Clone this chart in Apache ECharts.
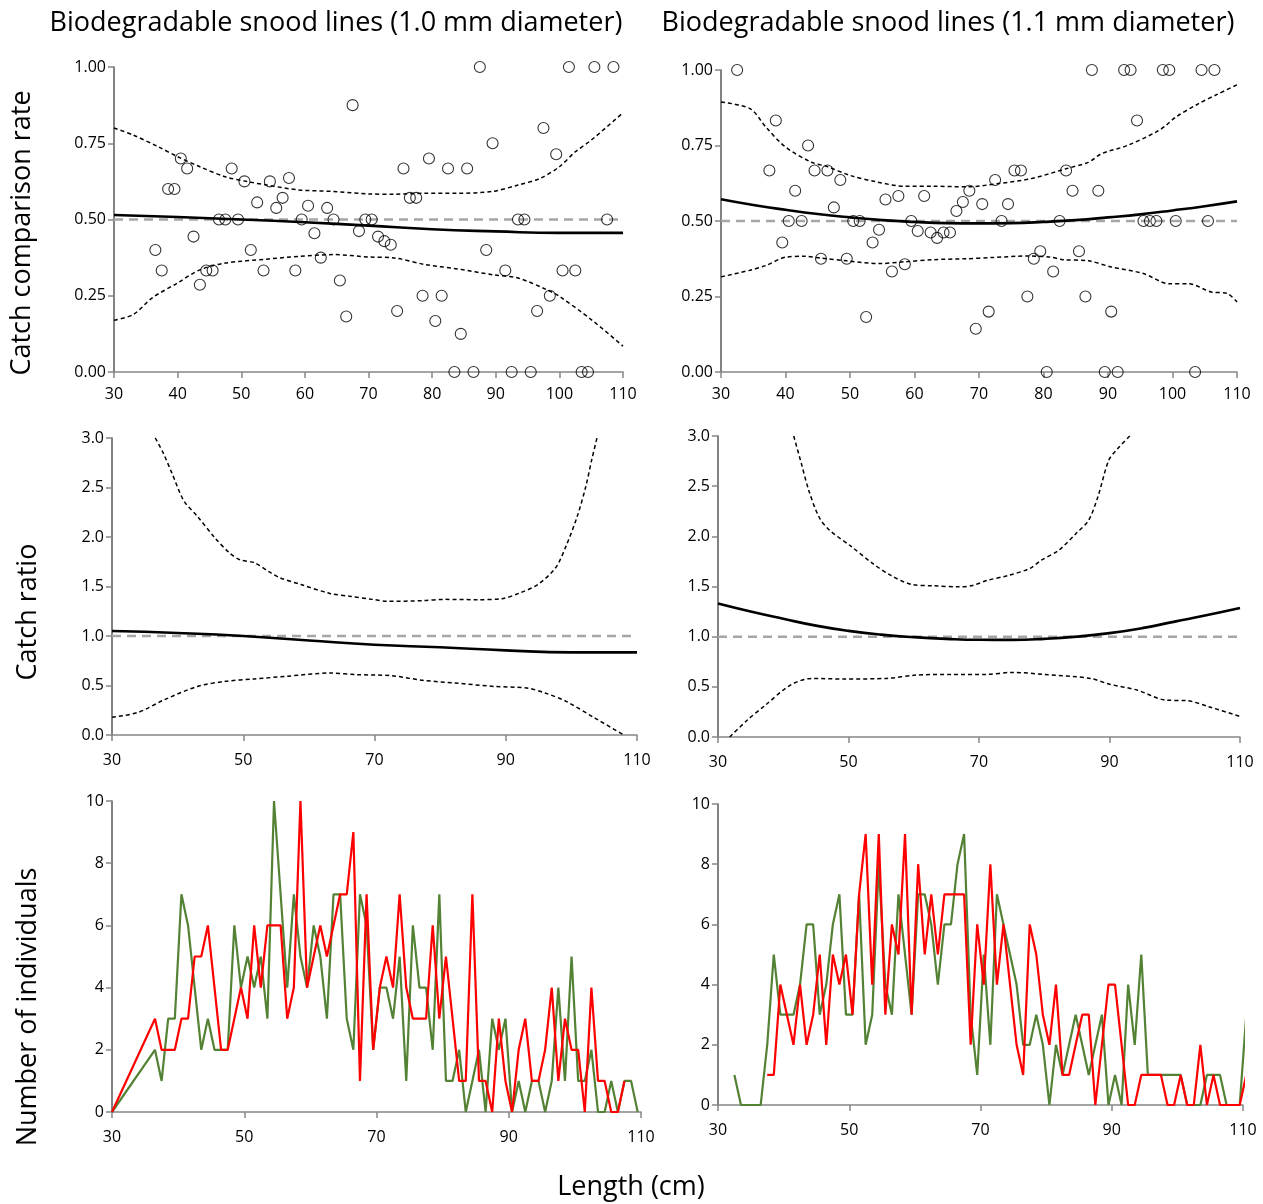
<!DOCTYPE html>
<html><head><meta charset="utf-8">
<script src="https://cdn.jsdelivr.net/npm/echarts@6/dist/echarts.min.js"></script>
<style>html,body{margin:0;padding:0;background:#fff}#c{width:1263px;height:1204px}</style>
</head><body><div id="c"></div><script>
// ---------- Top-left: catch comparison rate (1.0 mm) ----------
const rateLenA = [36.5,37.5,38.5,39.5,40.5,41.5,42.5,43.5,44.5,45.5,46.5,47.5,48.5,49.5,50.5,51.5,52.5,53.5,54.5,55.5,56.5,57.5,58.5,59.5,60.5,61.5,62.5,63.5,64.5,65.5,66.5,67.5,68.5,69.5,70.5,71.5,72.5,73.5,74.5,75.5,76.5,77.5,78.5,79.5,80.5,81.5,82.5,83.5,84.5,85.5,86.5,87.5,88.5,89.5,91.5,92.5,93.5,94.5,95.5,96.5,97.5,98.5,99.5,100.5,101.5,102.5,103.5,104.5,105.5,107.5,108.5];
const rateA = [0.4,0.333,0.6,0.6,0.7,0.667,0.444,0.286,0.333,0.333,0.5,0.5,0.667,0.5,0.625,0.4,0.556,0.333,0.625,0.538,0.571,0.636,0.333,0.5,0.545,0.455,0.375,0.538,0.5,0.3,0.182,0.875,0.462,0.5,0.5,0.444,0.429,0.417,0.2,0.667,0.571,0.571,0.25,0.7,0.167,0.25,0.667,0,0.125,0.667,0,1,0.4,0.75,0.333,0,0.5,0.5,0,0.2,0.8,0.25,0.714,0.333,1,0.333,0,0,1,0.5,1];
const fitLenA = [30,40,50,60,70,80,90,100,110];
const fitA = [0.515,0.508,0.500,0.491,0.480,0.468,0.461,0.456,0.456];
const upLenA = [30,33,37,40,43.5,47.5,51,54,59,64.5,70,74,79,84,89.5,93.5,97,100,102.5,105,110];
const upA = [0.80,0.777,0.738,0.706,0.673,0.64,0.624,0.613,0.597,0.592,0.584,0.583,0.586,0.586,0.592,0.613,0.635,0.673,0.722,0.76,0.85];
const loLenA = [30,33,36,40,43.5,47.5,54,59,64.5,70,74,79,84,89.5,93.5,98,100,105,110];
const loA = [0.17,0.188,0.243,0.292,0.335,0.357,0.37,0.379,0.385,0.377,0.374,0.352,0.338,0.319,0.308,0.27,0.248,0.172,0.085];

// ---------- Top-right: catch comparison rate (1.1 mm) ----------
const rateLenB = [32.5,37.5,38.5,39.5,40.5,41.5,42.5,43.5,44.5,45.5,46.5,47.5,48.5,49.5,50.5,51.5,52.5,53.5,54.5,55.5,56.5,57.5,58.5,59.5,60.5,61.5,62.5,63.5,64.5,65.5,66.5,67.5,68.5,69.5,70.5,71.5,72.5,73.5,74.5,75.5,76.5,77.5,78.5,79.5,80.5,81.5,82.5,83.5,84.5,85.5,86.5,87.5,88.5,89.5,90.5,91.5,92.5,93.5,94.5,95.5,96.5,97.5,98.5,99.5,100.5,103.5,104.5,105.5,106.5];
const rateB = [1,0.667,0.833,0.429,0.5,0.6,0.5,0.75,0.667,0.375,0.667,0.545,0.636,0.375,0.5,0.5,0.182,0.429,0.471,0.571,0.333,0.583,0.357,0.5,0.467,0.583,0.462,0.444,0.462,0.462,0.533,0.563,0.6,0.143,0.556,0.2,0.636,0.5,0.556,0.667,0.667,0.25,0.375,0.4,0,0.333,0.5,0.667,0.6,0.4,0.25,1,0.6,0,0.2,0,1,1,0.833,0.5,0.5,0.5,1,1,0.5,0,1,0.5,1];
const fitLenB = [30,35,40,45,50,55,60,65,70,75,80,85,90,95,100,105,110];
const fitB = [0.572,0.553,0.537,0.523,0.512,0.503,0.497,0.493,0.492,0.493,0.497,0.503,0.512,0.522,0.535,0.549,0.565];
const upLenB = [30,34.5,37,40,44,46.5,50,54,58.5,63,68,73,78,83.5,87,89,93,97.5,99,100.5,104,107,110];
const upB = [0.894,0.872,0.81,0.745,0.695,0.68,0.651,0.63,0.615,0.615,0.613,0.624,0.64,0.673,0.695,0.723,0.75,0.795,0.817,0.844,0.888,0.92,0.951];
const loLenB = [30,34.5,37,40,43,45.5,49.5,54.5,58.5,63,68,72,77.5,81,83,87,90.5,95.5,99.5,102.5,106,108.5,110];
const loB = [0.315,0.337,0.353,0.38,0.383,0.377,0.368,0.359,0.365,0.372,0.375,0.379,0.384,0.381,0.372,0.368,0.348,0.326,0.292,0.292,0.265,0.26,0.232];

// ---------- Middle-left: catch ratio (1.0 mm) ----------
const crFitLenA = [30,40,50,60,70,80,90,100,110];
const crFitA = [1.05,1.03,1.0,0.955,0.912,0.886,0.855,0.835,0.835];
const crUpLenA = [36.6,37.8,39.1,41,43,45.7,47.9,49.5,51.7,53.9,55.5,58.8,63.2,66.4,69.7,71.9,77.4,80.7,85.6,89.4,92.1,94.9,97.6,99.2,100.9,102.2,103.1,103.9];
const crUpA = [3.0,2.85,2.65,2.36,2.21,1.99,1.84,1.77,1.74,1.65,1.59,1.52,1.43,1.40,1.37,1.35,1.357,1.37,1.367,1.377,1.434,1.52,1.69,1.91,2.21,2.51,2.78,3.0];
const crLoLenA = [30,34,38,43,47.3,51.7,56.6,63.2,67.5,72.5,77.4,82.3,88.3,93.2,96,99.2,103.6,108];
const crLoA = [0.178,0.229,0.357,0.49,0.542,0.566,0.593,0.626,0.609,0.6,0.552,0.525,0.49,0.475,0.424,0.34,0.17,0.0];

// ---------- Middle-right: catch ratio (1.1 mm) ----------
const crFitLenB = [30,35,40,45,50,55,60,65,70,75,80,85,90,95,100,105,110];
const crFitB = [1.33,1.25,1.178,1.11,1.058,1.02,0.995,0.978,0.969,0.968,0.978,1.0,1.035,1.085,1.15,1.215,1.285];
const crUpLenB = [41.6,42.8,43.9,45.5,47.1,50.4,53.7,56.5,59.7,63,66.9,69,71.2,74.5,77.8,79.5,82.2,84.9,86.8,88.2,89.9,91.2,93.1];
const crUpB = [3.0,2.72,2.46,2.19,2.06,1.90,1.73,1.61,1.52,1.507,1.497,1.51,1.56,1.61,1.68,1.76,1.86,2.03,2.16,2.39,2.76,2.87,3.0];
const crLoLenB = [31.8,34.5,37.3,41.1,44.4,49.3,55.9,60.3,65.8,71.2,75,80,87.1,89.9,94.2,98.6,101.9,105.2,109.8,110];
const crLoB = [0.0,0.169,0.319,0.518,0.584,0.578,0.584,0.617,0.624,0.624,0.644,0.624,0.584,0.528,0.468,0.368,0.362,0.302,0.209,0.2];

// ---------- Bottom-left: numbers (1.0 mm) ----------
const cntLenA = [30,36.5,37.5,38.5,39.5,40.5,41.5,42.5,43.5,44.5,45.5,46.5,47.5,48.5,49.5,50.5,51.5,52.5,53.5,54.5,55.5,56.5,57.5,58.5,59.5,60.5,61.5,62.5,63.5,64.5,65.5,66.5,67.5,68.5,69.5,70.5,71.5,72.5,73.5,74.5,75.5,76.5,77.5,78.5,79.5,80.5,81.5,82.5,83.5,84.5,85.5,86.5,87.5,88.5,89.5,90.5,91.5,92.5,93.5,94.5,95.5,96.5,97.5,98.5,99.5,100.5,101.5,102.5,103.5,104.5,105.5,106.5,107.5,108.5,109.5];
const greenA = [0,2,1,3,3,7,6,4,2,3,2,2,2,6,4,5,4,5,3,10,7,4,7,5,4,6,5,3,7,7,3,2,7,6,2,4,4,3,5,1,6,4,4,2,7,1,1,2,0,1,2,0,3,2,3,0,1,0,1,1,0,1,4,1,5,1,1,2,0,0,1,0,1,1,0];
const redA = [0,3,2,2,2,3,3,5,5,6,4,2,2,3,4,3,6,4,6,6,6,3,4,10,4,5,6,5,6,7,7,9,1,7,2,4,5,4,7,4,3,3,3,6,3,5,3,1,1,7,1,1,0,3,1,0,2,3,1,1,2,4,1,3,2,2,0,4,1,1,0,0,1];

// ---------- Bottom-right: numbers (1.1 mm) ----------
const cntLenB = [32.5,33.5,34.5,35.5,36.5,37.5,38.5,39.5,40.5,41.5,42.5,43.5,44.5,45.5,46.5,47.5,48.5,49.5,50.5,51.5,52.5,53.5,54.5,55.5,56.5,57.5,58.5,59.5,60.5,61.5,62.5,63.5,64.5,65.5,66.5,67.5,68.5,69.5,70.5,71.5,72.5,73.5,74.5,75.5,76.5,77.5,78.5,79.5,80.5,81.5,82.5,83.5,84.5,85.5,86.5,87.5,88.5,89.5,90.5,91.5,92.5,93.5,94.5,95.5,96.5,97.5,98.5,99.5,100.5,101.5,102.5,103.5,104.5,105.5,106.5,107.5,108.5,109.5,110.5];
const greenB = [1,0,0,0,0,2,5,3,3,3,4,6,6,3,4,6,7,3,3,7,2,3,8,4,3,7,5,3,7,7,6,4,6,6,8,9,3,1,5,2,7,6,5,4,2,2,3,2,0,2,1,2,3,2,1,2,3,0,1,0,4,2,5,1,1,1,1,1,1,0,0,0,1,1,1,0,0,0,3];
const redLenB = [37.5,38.5,39.5,40.5,41.5,42.5,43.5,44.5,45.5,46.5,47.5,48.5,49.5,50.5,51.5,52.5,53.5,54.5,55.5,56.5,57.5,58.5,59.5,60.5,61.5,62.5,63.5,64.5,65.5,66.5,67.5,68.5,69.5,70.5,71.5,72.5,73.5,74.5,75.5,76.5,77.5,78.5,79.5,80.5,81.5,82.5,83.5,84.5,85.5,86.5,87.5,88.5,89.5,90.5,91.5,92.5,93.5,94.5,95.5,96.5,97.5,98.5,99.5,100.5,101.5,102.5,103.5,104.5,105.5,106.5,107.5,108.5,109.5,110.5];
const redB = [1,1,4,3,2,4,2,3,5,2,5,4,5,3,7,9,4,9,3,6,5,9,3,8,5,7,5,7,7,7,7,2,6,4,8,4,6,4,2,1,6,5,3,2,4,1,1,2,3,3,0,2,4,4,2,0,0,1,1,1,1,0,0,1,0,0,2,0,1,0,0,0,0,1];

// tick labels and texts
const rateTicks = ['0.00','0.25','0.50','0.75','1.00'];
const titles = ['Biodegradable snood lines (1.0 mm diameter)','Biodegradable snood lines (1.1 mm diameter)'];
const yTitles = ['Catch comparison rate','Catch ratio','Number of individuals'];
const xTitle = 'Length (cm)';

const FONT = 'Open Sans';
const zip = (xs, ys) => ys.map((y, i) => [xs[i], y]);

const grids = [
  {left:114, top:67, width:509, height:305},
  {left:721, top:70, width:516, height:302},
  {left:112, top:438, width:525, height:297},
  {left:718, top:436, width:522, height:301},
  {left:112, top:801, width:529, height:311},
  {left:718, top:804, width:525, height:301}
];

function xAx(i, interval, margin){
  return {gridIndex:i, type:'value', min:30, max:110, interval:interval,
    axisLine:{show:true, onZero:false, lineStyle:{color:'#868686', width:1.5}},
    axisTick:{show:true, length:6, lineStyle:{color:'#868686', width:1.5}},
    splitLine:{show:false},
    axisLabel:{fontFamily:FONT, fontSize:16, color:'#000', margin:margin}};
}
function yAx(i, max, interval, fmt){
  return {gridIndex:i, type:'value', min:0, max:max, interval:interval,
    axisLine:{show:true, lineStyle:{color:'#595959', width:1.5}},
    axisTick:{show:true, length:6, lineStyle:{color:'#868686', width:1.5}},
    splitLine:{show:false},
    axisLabel:{fontFamily:FONT, fontSize:16, color:'#000', margin:8, formatter:fmt}};
}

function refLine(i, v){
  return {type:'line', xAxisIndex:i, yAxisIndex:i, data:[[30,v],[110,v]], symbol:'none', silent:true,
    lineStyle:{color:'#a6a6a6', width:2.5, type:[9,6]}, z:1};
}
function fitLine(i, xs, ys){
  return {type:'line', xAxisIndex:i, yAxisIndex:i, data:zip(xs, ys), symbol:'none', smooth:true,
    lineStyle:{color:'#000', width:2.6}, z:3};
}
function ciLine(i, xs, ys){
  return {type:'line', xAxisIndex:i, yAxisIndex:i, data:zip(xs, ys), symbol:'none', smooth:0.3,
    lineStyle:{color:'#000', width:1.5, type:[4,3]}, z:2};
}
function pts(i, xs, ys){
  return {type:'scatter', xAxisIndex:i, yAxisIndex:i, data:zip(xs, ys), symbol:'circle', symbolSize:11, clip:false,
    itemStyle:{color:'rgba(0,0,0,0)', borderColor:'#000', borderWidth:1.1}, z:4};
}
function cnt(i, xs, ys, color, z){
  return {type:'line', xAxisIndex:i, yAxisIndex:i, data:zip(xs, ys), symbol:'none', clip:true,
    lineStyle:{color:color, width:2.2}, z:z};
}

const rateFmt = v => rateTicks[Math.round(v / 0.25)];
const crFmt = v => v.toFixed(1);

function txt(x, y, s, rot){
  const o = {type:'text', x:x, y:y, style:{text:s, fontFamily:FONT, fontSize:27, fill:'#000', textAlign:'center', textVerticalAlign:'middle'}};
  if (rot) o.rotation = Math.PI/2;
  return o;
}

const option = {
  backgroundColor:'#fff',
  animation:false,
  grid: grids,
  xAxis:[xAx(0,10,14), xAx(1,10,14), xAx(2,20,17), xAx(3,20,17), xAx(4,20,17), xAx(5,20,17)],
  yAxis:[yAx(0,1,0.25,rateFmt), yAx(1,1,0.25,rateFmt), yAx(2,3,0.5,crFmt), yAx(3,3,0.5,crFmt), yAx(4,10,2), yAx(5,10,2)],
  series:[
    refLine(0,0.5), ciLine(0,upLenA,upA), ciLine(0,loLenA,loA), fitLine(0,fitLenA,fitA), pts(0,rateLenA,rateA),
    refLine(1,0.5), ciLine(1,upLenB,upB), ciLine(1,loLenB,loB), fitLine(1,fitLenB,fitB), pts(1,rateLenB,rateB),
    refLine(2,1), ciLine(2,crUpLenA,crUpA), ciLine(2,crLoLenA,crLoA), fitLine(2,crFitLenA,crFitA),
    refLine(3,1), ciLine(3,crUpLenB,crUpB), ciLine(3,crLoLenB,crLoB), fitLine(3,crFitLenB,crFitB),
    cnt(4,cntLenA,greenA,'#548235',2), cnt(4,cntLenA,redA,'#ff0000',3),
    cnt(5,cntLenB,greenB,'#548235',2), cnt(5,redLenB,redB,'#ff0000',3)
  ],
  graphic:[
    txt(336, 23, titles[0]),
    txt(948, 23, titles[1]),
    txt(22, 233, yTitles[0], true),
    txt(28, 612, yTitles[1], true),
    txt(28, 1007, yTitles[2], true),
    txt(631, 1187, xTitle)
  ]
};
const chart = echarts.init(document.getElementById('c'), null, {renderer:'canvas'});
chart.setOption(option);
</script></body></html>
